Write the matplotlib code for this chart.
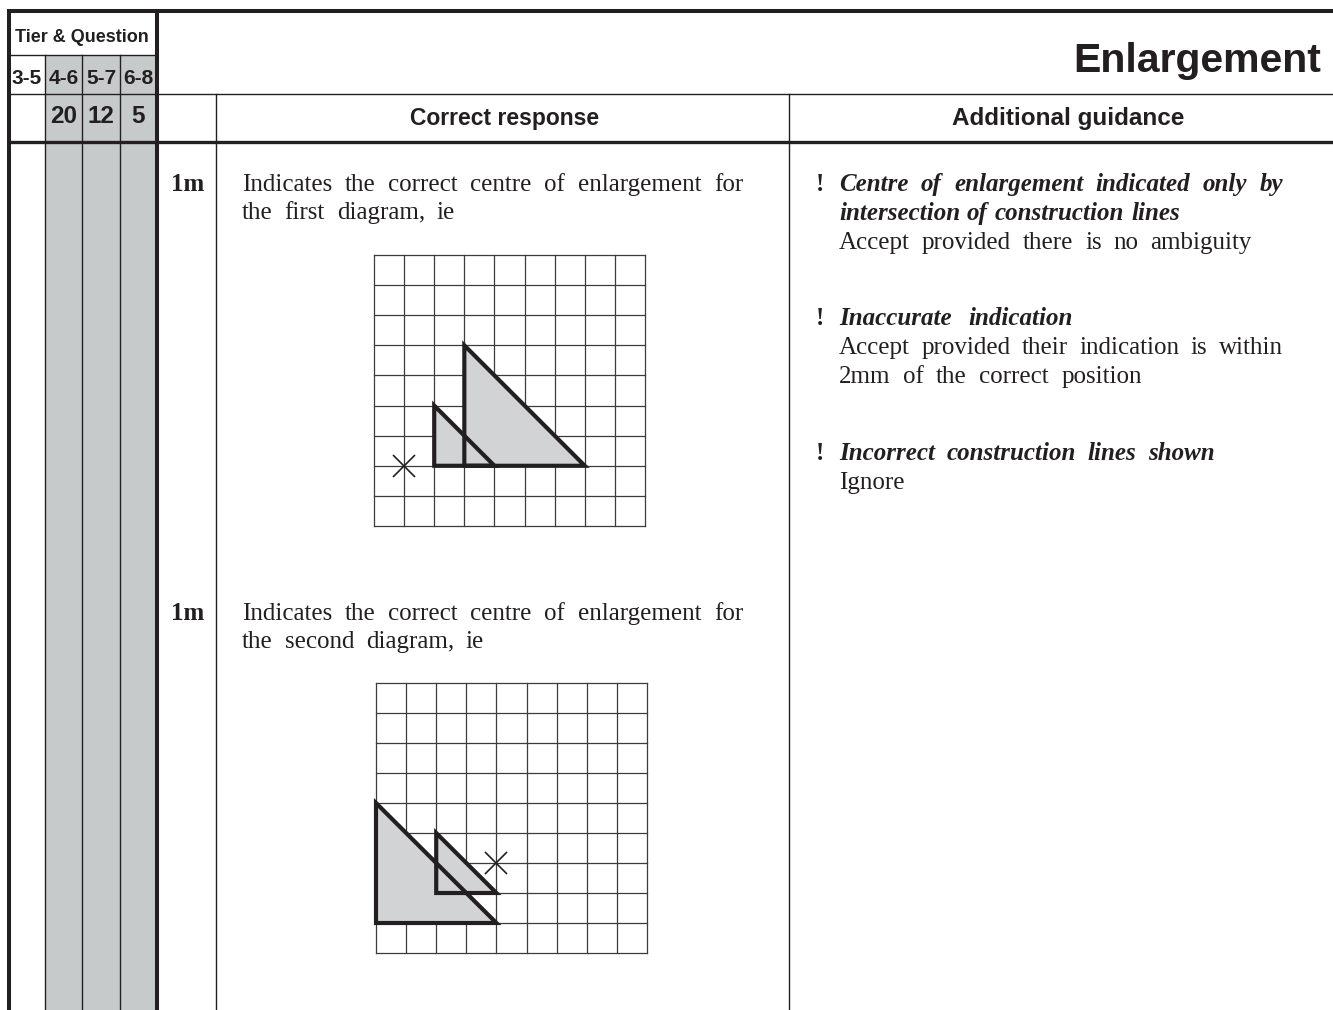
import matplotlib
matplotlib.use('Agg')
import matplotlib.pyplot as plt
from matplotlib.patches import Polygon, Rectangle

W, H = 1333, 1010
INK = '#231f20'
SANS = 'Liberation Sans'
SERIF = 'Liberation Serif'

# table header values
tier_labels = ['3-5', '4-6', '5-7', '6-8']
question_nums = ['', '20', '12', '5']
title = 'Enlargement'
col_headers = ['Correct response', 'Additional guidance']
marks = ['1m', '1m']
response_lines = [
    ['Indicates the correct centre of enlargement for', 'the first diagram, ie'],
    ['Indicates the correct centre of enlargement for', 'the second diagram, ie'],
]
response_ends = [[743, 455], [743, 484]]
guidance = [
    ('!', 'Centre of enlargement indicated only by', 'bi'),
    ('', 'intersection of construction lines', 'bi'),
    ('', 'Accept provided there is no ambiguity', 'r'),
    ('!', 'Inaccurate indication', 'bi'),
    ('', 'Accept provided their indication is within', 'r'),
    ('', '2mm of the correct position', 'r'),
    ('!', 'Incorrect construction lines shown', 'bi'),
    ('', 'Ignore', 'r'),
]
guidance_y = [191, 220, 249, 325, 354, 383, 460, 489]
guidance_ends = [1283, 1180, 1252, 1073, 1283, 1142, 1215, None]

# diagrams, in grid squares (x right, y up) on a 9x9 grid
grid_n = 9
small_1 = [(2, 2), (2, 4), (4, 2)]
large_1 = [(3, 2), (3, 6), (7, 2)]
centre_1 = (1, 2)
small_2 = [(2, 2), (2, 4), (4, 2)]
large_2 = [(0, 1), (0, 5), (4, 1)]
centre_2 = (4, 3)

fig = plt.figure(figsize=(W / 100, H / 100), dpi=100)
ax = fig.add_axes([0, 0, 1, 1])
ax.set_xlim(0, W)
ax.set_ylim(H, 0)
ax.axis('off')
renderer = fig.canvas.get_renderer()


def put_line(x, y, text, x_end, **kw):
    # spread the words so the line ends at x_end (justified look)
    words = text.split()
    if x_end is None or len(words) < 2:
        ax.text(x, y, text, ha='left', va='baseline', color=INK, **kw)
        return
    arts = [ax.text(x, y, w, ha='left', va='baseline', color=INK, **kw) for w in words]
    widths = [a.get_window_extent(renderer).width for a in arts]
    gap = (x_end - x - sum(widths)) / (len(words) - 1)
    pos = x
    for a, wd in zip(arts, widths):
        a.set_x(pos)
        pos += wd + gap


# grey tier columns
ax.add_patch(Rectangle((45, 55), 157 - 45, H - 55, facecolor='#c6cacb', edgecolor='none', zorder=0))

thick, thin = 2.9, 1.0
ax.plot([7, W], [11, 11], color=INK, lw=thick, solid_capstyle='butt')
ax.plot([9, 9], [11, H], color=INK, lw=thick, solid_capstyle='butt')
ax.plot([157, 157], [11, H], color=INK, lw=thick, solid_capstyle='butt')
ax.plot([9, 157], [55, 55], color=INK, lw=thin)
ax.plot([9, W], [94, 94], color=INK, lw=thin)
ax.plot([9, W], [142, 142], color=INK, lw=2.4)
for x in [45, 82, 120]:
    ax.plot([x, x], [55, H], color=INK, lw=thin)
for x in [216, 789]:
    ax.plot([x, x], [94, H], color=INK, lw=thin)

# header texts
ax.text(82, 41.5, 'Tier & Question', family=SANS, weight='bold', fontsize=13,
        ha='center', va='baseline', color=INK)
for cx, lab in zip([27, 63.5, 101, 138.5], tier_labels):
    ax.text(cx, 84, lab, family=SANS, weight='bold', fontsize=15, ha='center',
            va='baseline', color=INK)
for cx, lab in zip([27, 63.5, 101, 138.5], question_nums):
    ax.text(cx, 123, lab, family=SANS, weight='bold', fontsize=17.5, ha='center',
            va='baseline', color=INK)
ax.text(1321, 72, title, family=SANS, weight='bold', fontsize=29.5, ha='right',
        va='baseline', color=INK)
ax.text(505, 125, col_headers[0], family=SANS, weight='bold', fontsize=16.5,
        ha='center', va='baseline', color=INK)
ax.text(1068, 125, col_headers[1], family=SANS, weight='bold', fontsize=17.5,
        ha='center', va='baseline', color=INK)

# left column responses
for y0, mk, lines, ends in zip([191, 620], marks, response_lines, response_ends):
    ax.text(171, y0, mk, family=SERIF, weight='bold', fontsize=18, ha='left',
            va='baseline', color=INK)
    for i, (ln, xe) in enumerate(zip(lines, ends)):
        put_line(242, y0 + 28 * i, ln, xe, family=SERIF, fontsize=18)

# guidance column
for y, (bang, txt, sty), xe in zip(guidance_y, guidance, guidance_ends):
    if bang:
        ax.text(816, y, bang, family=SERIF, weight='bold', fontsize=18,
                ha='left', va='baseline', color=INK)
    if sty == 'bi':
        put_line(839, y, txt, xe, family=SERIF, weight='bold', style='italic', fontsize=18)
    else:
        put_line(839, y, txt, xe, family=SERIF, fontsize=18)


def draw_diagram(box, small, large, centre):
    x0, y0, x1, y1 = box
    g = fig.add_axes([x0 / W, 1 - y1 / H, (x1 - x0) / W, (y1 - y0) / H])
    g.set_xlim(0, grid_n)
    g.set_ylim(0, grid_n)
    g.axis('off')
    for k in range(grid_n + 1):
        g.plot([k, k], [0, grid_n], color='#3c3c3c', lw=0.9, clip_on=False)
        g.plot([0, grid_n], [k, k], color='#3c3c3c', lw=0.9, clip_on=False)
    for tri in [small, large]:
        g.add_patch(Polygon(tri, closed=True, facecolor='#d1d3d4',
                            edgecolor='none', zorder=2))
    for tri in [small, large]:
        g.add_patch(Polygon(tri, closed=True, facecolor='none', edgecolor=INK,
                            lw=3.0, joinstyle='miter', zorder=3, clip_on=False))
    g.plot([centre[0]], [centre[1]], marker='x', ms=16, mew=1.2, color=INK,
           zorder=4, clip_on=False)


draw_diagram((374, 255, 645, 526), small_1, large_1, centre_1)
draw_diagram((376, 683, 647, 953), small_2, large_2, centre_2)

fig.savefig('out.png', dpi=100)
